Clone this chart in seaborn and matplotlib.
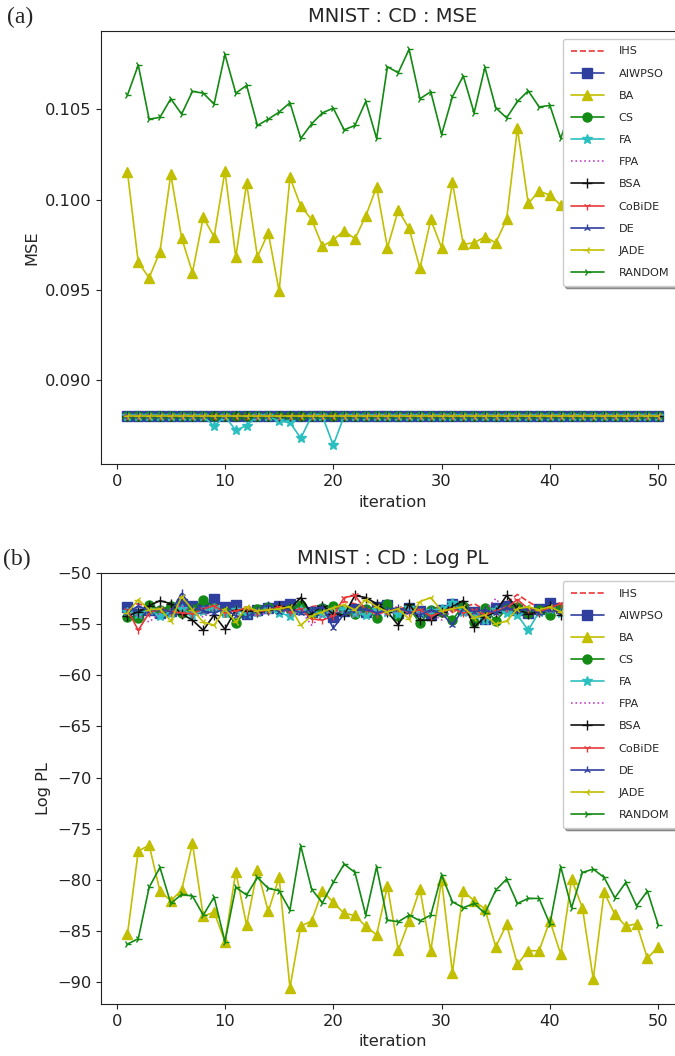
import numpy as np
import pandas as pd
import matplotlib
matplotlib.use('Agg')
import matplotlib.pyplot as plt
import seaborn as sns

# --- 1. DATA ---
iterations = list(range(1, 51))

algorithms = ['IHS', 'AIWPSO', 'BA', 'CS', 'FA', 'FPA', 'BSA', 'CoBiDE', 'DE', 'JADE', 'RANDOM']

# (a) MSE -- most methods sit on the same flat value
mse_flat = [0.0880, 0.0880, 0.0880, 0.0880, 0.0880, 0.0880, 0.0880, 0.0880, 0.0880, 0.0880,
            0.0880, 0.0880, 0.0880, 0.0880, 0.0880, 0.0880, 0.0880, 0.0880, 0.0880, 0.0880,
            0.0880, 0.0880, 0.0880, 0.0880, 0.0880, 0.0880, 0.0880, 0.0880, 0.0880, 0.0880,
            0.0880, 0.0880, 0.0880, 0.0880, 0.0880, 0.0880, 0.0880, 0.0880, 0.0880, 0.0880,
            0.0880, 0.0880, 0.0880, 0.0880, 0.0880, 0.0880, 0.0880, 0.0880, 0.0880, 0.0880]
mse_fa = [0.0880, 0.0880, 0.0880, 0.0880, 0.0880, 0.0880, 0.0880, 0.0880, 0.08744, 0.0880,
          0.08721, 0.08748, 0.0880, 0.0880, 0.08772, 0.08765, 0.08678, 0.0880, 0.0880, 0.08639,
          0.0880, 0.0880, 0.0880, 0.0880, 0.0880, 0.0880, 0.0880, 0.0880, 0.0880, 0.0880,
          0.0880, 0.0880, 0.0880, 0.0880, 0.0880, 0.0880, 0.0880, 0.0880, 0.0880, 0.0880,
          0.0880, 0.0880, 0.0880, 0.0880, 0.0880, 0.0880, 0.0880, 0.0880, 0.0880, 0.0880]
mse_ba = [0.10154, 0.09652, 0.09567, 0.09711, 0.10140, 0.09788, 0.09596, 0.09901, 0.09794, 0.10158,
          0.09681, 0.10090, 0.09683, 0.09816, 0.09493, 0.10123, 0.09964, 0.09890, 0.09742, 0.09776,
          0.09827, 0.09783, 0.09909, 0.10071, 0.09733, 0.09942, 0.09840, 0.09619, 0.09890, 0.09733,
          0.10095, 0.09752, 0.09761, 0.09794, 0.09761, 0.09890, 0.10395, 0.09979, 0.10047, 0.10025,
          0.09970, 0.09850, 0.09920, 0.09780, 0.09880, 0.09810, 0.09950, 0.09830, 0.09790, 0.09900]
mse_random = [0.10579, 0.10746, 0.10446, 0.10456, 0.10559, 0.10474, 0.10600, 0.10590, 0.10529, 0.10805,
              0.10590, 0.10633, 0.10411, 0.10446, 0.10485, 0.10537, 0.10339, 0.10420, 0.10481, 0.10507,
              0.10387, 0.10411, 0.10544, 0.10339, 0.10736, 0.10703, 0.10833, 0.10559, 0.10598, 0.10361,
              0.10570, 0.10686, 0.10481, 0.10733, 0.10509, 0.10453, 0.10544, 0.10603, 0.10514, 0.10522,
              0.10339, 0.10520, 0.10580, 0.10490, 0.10550, 0.10610, 0.10470, 0.10530, 0.10590, 0.10500]

# (b) Log PL
pl_ihs = [-53.2, -53.0, -53.4, -53.8, -53.5, -53.1, -53.6, -53.9, -53.4, -53.7,
          -53.3, -53.6, -53.5, -53.2, -53.8, -53.4, -53.7, -53.3, -53.1, -53.6,
          -52.8, -53.0, -53.5, -53.9, -53.4, -53.6, -53.2, -53.7, -53.5, -53.3,
          -53.8, -53.4, -53.0, -53.6, -53.5, -52.9, -52.1, -52.8, -53.4, -53.2,
          -53.7, -53.3, -53.5, -53.8, -53.2, -53.6, -53.4, -53.1, -53.5, -53.3]
pl_aiwpso = [-53.3, -54.0, -53.6, -53.9, -53.7, -53.0, -53.2, -53.4, -52.5, -53.3,
             -53.1, -54.0, -53.6, -53.4, -53.2, -53.0, -53.5, -53.8, -53.6, -54.3,
             -53.7, -53.5, -53.8, -53.3, -53.1, -53.9, -53.4, -53.7, -54.1, -53.6,
             -53.0, -53.5, -53.8, -54.5, -53.4, -53.2, -53.6, -53.9, -53.5, -52.9,
             -53.4, -53.7, -53.3, -53.8, -53.5, -53.2, -53.6, -53.9, -53.4, -53.5]
pl_ba = [-85.31, -77.18, -76.59, -81.08, -82.03, -80.99, -76.43, -83.53, -83.14, -86.03,
         -79.20, -84.41, -79.03, -83.07, -79.75, -90.53, -84.50, -84.01, -81.05, -82.19,
         -83.26, -83.46, -84.53, -85.35, -80.60, -86.85, -84.01, -80.89, -86.91, -80.01,
         -89.06, -81.08, -82.03, -82.84, -86.52, -84.34, -88.24, -86.91, -86.91, -83.98,
         -87.27, -79.94, -82.71, -89.68, -81.21, -83.36, -84.50, -84.28, -87.66, -86.52]
pl_cs = [-54.3, -54.4, -53.1, -53.6, -53.2, -53.9, -53.5, -52.6, -53.4, -53.8,
         -54.9, -53.7, -53.5, -53.3, -53.6, -53.5, -53.1, -53.9, -53.4, -53.2,
         -53.7, -54.0, -53.5, -54.4, -53.0, -54.2, -53.4, -54.9, -53.6, -53.8,
         -54.6, -53.2, -54.8, -53.4, -54.7, -53.5, -53.3, -53.9, -53.6, -54.1,
         -53.4, -53.8, -53.5, -54.0, -53.6, -53.3, -53.9, -53.5, -54.2, -53.7]
pl_fa = [-53.8, -54.0, -53.6, -54.2, -53.9, -53.5, -54.1, -53.7, -53.4, -53.9,
         -53.6, -54.0, -53.8, -53.5, -53.9, -54.2, -53.6, -53.8, -54.0, -53.7,
         -53.5, -53.9, -54.1, -53.6, -53.8, -54.0, -53.4, -53.9, -53.7, -53.5,
         -52.9, -53.8, -54.0, -54.6, -53.6, -53.9, -54.1, -55.6, -53.8, -53.5,
         -53.9, -53.7, -54.0, -53.6, -53.8, -54.1, -53.5, -53.9, -53.7, -54.0]
pl_fpa = [-53.8, -54.2, -54.8, -53.9, -53.5, -53.2, -53.9, -54.3, -53.6, -54.1,
          -53.7, -53.9, -54.2, -53.8, -53.5, -54.0, -53.7, -55.1, -54.2, -53.6,
          -53.9, -54.3, -53.5, -53.8, -54.1, -53.7, -53.4, -54.0, -53.8, -54.6,
          -53.6, -53.9, -54.4, -53.7, -52.5, -53.8, -53.3, -54.1, -53.9, -53.6,
          -54.0, -53.8, -53.5, -54.2, -53.7, -53.9, -54.1, -53.6, -53.8, -54.0]
pl_bsa = [-54.2, -53.8, -53.2, -52.7, -53.0, -54.0, -54.6, -55.6, -54.1, -55.5,
          -53.6, -53.7, -53.8, -53.6, -53.2, -53.5, -52.4, -54.0, -53.2, -54.0,
          -54.1, -52.2, -52.4, -53.0, -53.8, -55.1, -53.0, -54.6, -54.6, -53.8,
          -53.3, -52.7, -55.3, -54.3, -53.8, -52.2, -53.5, -54.0, -53.8, -53.2,
          -54.1, -54.0, -53.5, -54.2, -53.8, -54.5, -53.5, -54.0, -53.7, -54.2]
pl_cobide = [-53.6, -55.6, -53.9, -53.5, -53.8, -53.9, -54.0, -53.5, -53.2, -53.9,
             -53.7, -53.4, -53.8, -53.6, -53.3, -53.8, -53.5, -54.5, -54.6, -54.2,
             -52.4, -52.2, -53.6, -54.0, -53.7, -53.4, -53.9, -53.6, -54.2, -53.8,
             -53.5, -53.9, -53.6, -54.1, -53.7, -53.4, -52.6, -53.5, -53.8, -53.4,
             -53.0, -52.5, -53.6, -53.9, -53.4, -53.7, -53.5, -53.8, -52.6, -53.4]
pl_de = [-53.9, -53.2, -53.7, -53.5, -53.8, -52.0, -53.4, -53.7, -53.9, -53.5,
         -54.2, -54.3, -53.6, -53.1, -53.8, -53.5, -53.9, -53.6, -53.3, -55.4,
         -54.0, -53.7, -53.5, -53.9, -53.6, -53.4, -53.8, -54.1, -53.6, -53.9,
         -55.1, -53.5, -53.8, -53.6, -53.9, -53.4, -53.7, -53.5, -53.9, -53.6,
         -53.8, -53.5, -53.7, -53.9, -53.4, -53.6, -53.8, -53.5, -53.7, -53.6]
pl_jade = [-53.9, -52.6, -53.6, -53.5, -54.7, -52.3, -53.6, -54.8, -55.1, -53.5,
           -54.8, -53.3, -53.7, -53.6, -53.5, -53.3, -55.1, -54.2, -53.8, -53.4,
           -53.1, -53.6, -52.6, -53.3, -53.8, -53.5, -54.5, -52.8, -52.4, -53.7,
           -53.5, -53.3, -54.4, -54.1, -55.0, -54.7, -53.5, -53.3, -53.6, -53.3,
           -53.8, -53.5, -53.9, -53.6, -53.4, -53.8, -53.5, -53.7, -53.9, -53.6]
pl_random = [-86.26, -85.74, -80.72, -78.77, -82.29, -81.41, -81.57, -83.43, -81.67, -86.03,
             -80.72, -81.47, -79.75, -80.82, -81.05, -82.94, -76.66, -80.89, -82.23, -80.24,
             -78.45, -79.26, -83.43, -78.71, -83.92, -84.08, -83.43, -83.98, -83.43, -79.52,
             -82.13, -82.71, -82.29, -83.26, -80.99, -79.91, -82.29, -81.80, -81.80, -84.31,
             -78.71, -82.71, -79.26, -78.94, -79.75, -81.74, -80.24, -82.52, -81.08, -84.41]

mse_series = [mse_flat, mse_flat, mse_ba, mse_flat, mse_fa, mse_flat, mse_flat,
              mse_flat, mse_flat, mse_flat, mse_random]
pl_series = [pl_ihs, pl_aiwpso, pl_ba, pl_cs, pl_fa, pl_fpa, pl_bsa,
             pl_cobide, pl_de, pl_jade, pl_random]

# --- 2. STYLES ---
styles = {
    'IHS':    dict(color='#e8383a', marker='',  linestyle='--'),
    'AIWPSO': dict(color='#2f3f9e', marker='s', linestyle='-'),
    'BA':     dict(color='#c2bf00', marker='^', linestyle='-'),
    'CS':     dict(color='#138a13', marker='o', linestyle='-'),
    'FA':     dict(color='#2cbfbf', marker='*', linestyle='-'),
    'FPA':    dict(color='#c444c4', marker='',  linestyle=':'),
    'BSA':    dict(color='#111111', marker='+', linestyle='-'),
    'CoBiDE': dict(color='#e8383a', marker='1', linestyle='-'),
    'DE':     dict(color='#2f3f9e', marker='2', linestyle='-'),
    'JADE':   dict(color='#c2bf00', marker='3', linestyle='-'),
    'RANDOM': dict(color='#138a13', marker='4', linestyle='-'),
}
msizes = {'s': 6.5, '^': 7, 'o': 6.5, '*': 7, '+': 7, '1': 6, '2': 6, '3': 6, '4': 6, '': 6}

sns.set_style('ticks')
plt.rcParams['font.family'] = ['DejaVu Sans']
plt.rcParams['font.size'] = 11.7
plt.rcParams['axes.edgecolor'] = '#222222'
plt.rcParams['xtick.color'] = '#222222'
plt.rcParams['ytick.color'] = '#222222'

fig = plt.figure(figsize=(6.75, 10.56), dpi=100)
ax_a = fig.add_axes([0.1495, 0.5603, 0.8650, 0.4106])
ax_b = fig.add_axes([0.1495, 0.0492, 0.8650, 0.4084])


def draw(ax, series_list):
    for name, vals in zip(algorithms, series_list):
        st = styles[name]
        sns.lineplot(x=iterations, y=vals, ax=ax, label=name,
                     color=st['color'], linestyle=st['linestyle'],
                     marker=st['marker'] if st['marker'] else None,
                     markersize=msizes[st['marker']],
                     markeredgecolor=st['color'], markeredgewidth=1.0,
                     linewidth=1.2)
    ax.legend(loc='upper right', fontsize=8.1, labelspacing=1.08,
              handlelength=3.0, handletextpad=1.25, borderpad=0.7,
              borderaxespad=0.7,
              fancybox=True, shadow=True, framealpha=1.0,
              edgecolor='#cccccc')
    ax.set_xlim(-1.45, 52.45)
    ax.set_xticks([0, 10, 20, 30, 40, 50])
    ax.set_xlabel('iteration')


draw(ax_a, mse_series)
ax_a.set_ylim(0.08533, 0.10936)
ax_a.set_yticks([0.090, 0.095, 0.100, 0.105])
ax_a.set_yticklabels(['0.090', '0.095', '0.100', '0.105'])
ax_a.set_ylabel('MSE')
ax_a.set_title('MNIST : CD : MSE')

draw(ax_b, pl_series)
ax_b.set_ylim(-92.12, -49.98)
ax_b.set_yticks([-90, -85, -80, -75, -70, -65, -60, -55, -50])
ax_b.set_ylabel('Log PL')
ax_b.set_title('MNIST : CD : Log PL')

fig.text(0.010, 1 - 17 / 1056, '(a)', family='Liberation Serif', fontsize=17, va='center')
fig.text(0.005, 1 - 559 / 1056, '(b)', family='Liberation Serif', fontsize=17, va='center')

fig.savefig('out.png', dpi=100)
